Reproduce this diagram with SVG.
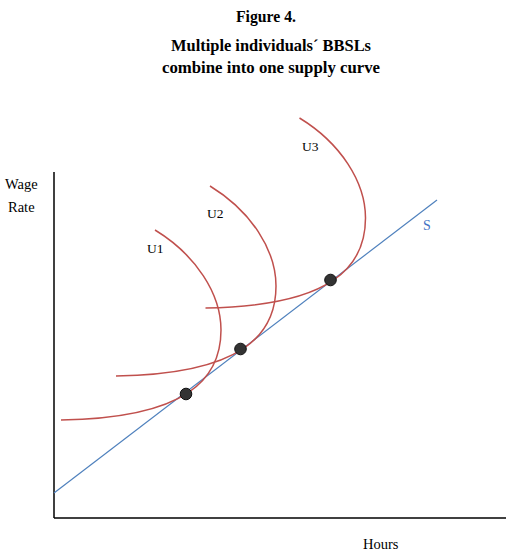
<svg xmlns="http://www.w3.org/2000/svg" width="514" height="556" viewBox="0 0 514 556">
<style>
.title{font-family:"Liberation Serif",serif;font-weight:bold;font-size:16px;fill:#000;text-anchor:middle}
.lbl{font-family:"Liberation Serif",serif;font-size:14.5px;fill:#000}
.u{font-family:"Liberation Serif",serif;font-size:13.5px;fill:#000}
.curve{fill:none;stroke:#C0504D;stroke-width:1.5}
.dot{fill:#333;stroke:#111;stroke-width:1}
</style>
<defs>
<path id="ucurve" class="curve" d="M155,230 C196,255 221,294 221,330 C221,379 187,418 61,420"/>
</defs>
<g id="title">
<text class="title" x="266" y="22" textLength="60" lengthAdjust="spacingAndGlyphs">Figure 4.</text>
<text class="title" x="271" y="51" textLength="200" lengthAdjust="spacingAndGlyphs">Multiple individuals´ BBSLs</text>
<text class="title" x="271" y="73" textLength="218" lengthAdjust="spacingAndGlyphs">combine into one supply curve</text>
</g>
<g id="axes" stroke="#000" stroke-width="1.5">
<line x1="54" y1="172" x2="54" y2="518"/>
<line x1="54" y1="518" x2="506" y2="518"/>
</g>
<g id="axis-labels">
<text class="lbl" x="5" y="189">Wage</text>
<text class="lbl" x="8" y="212">Rate</text>
<text class="lbl" x="363" y="549">Hours</text>
</g>
<g id="connectors">
<line id="S" x1="54" y1="493" x2="437" y2="200" stroke="#4F81BD" stroke-width="1.2"/>
</g>
<g id="U1"><use href="#ucurve"/><text class="u" x="147" y="253">U1</text></g>
<g id="U2"><use href="#ucurve" transform="translate(55,-44)"/><text class="u" x="207" y="218">U2</text></g>
<g id="U3"><use href="#ucurve" transform="translate(144.5,-112)"/><text class="u" x="302" y="151">U3</text></g>
<g id="S-label"><text class="u" x="423" y="230" style="fill:#4472C4;font-size:14px">S</text></g>
<g id="points">
<circle class="dot" cx="186" cy="394" r="5.8"/>
<circle class="dot" cx="240.5" cy="349" r="5.8"/>
<circle class="dot" cx="330.5" cy="280" r="5.8"/>
</g>
</svg>
